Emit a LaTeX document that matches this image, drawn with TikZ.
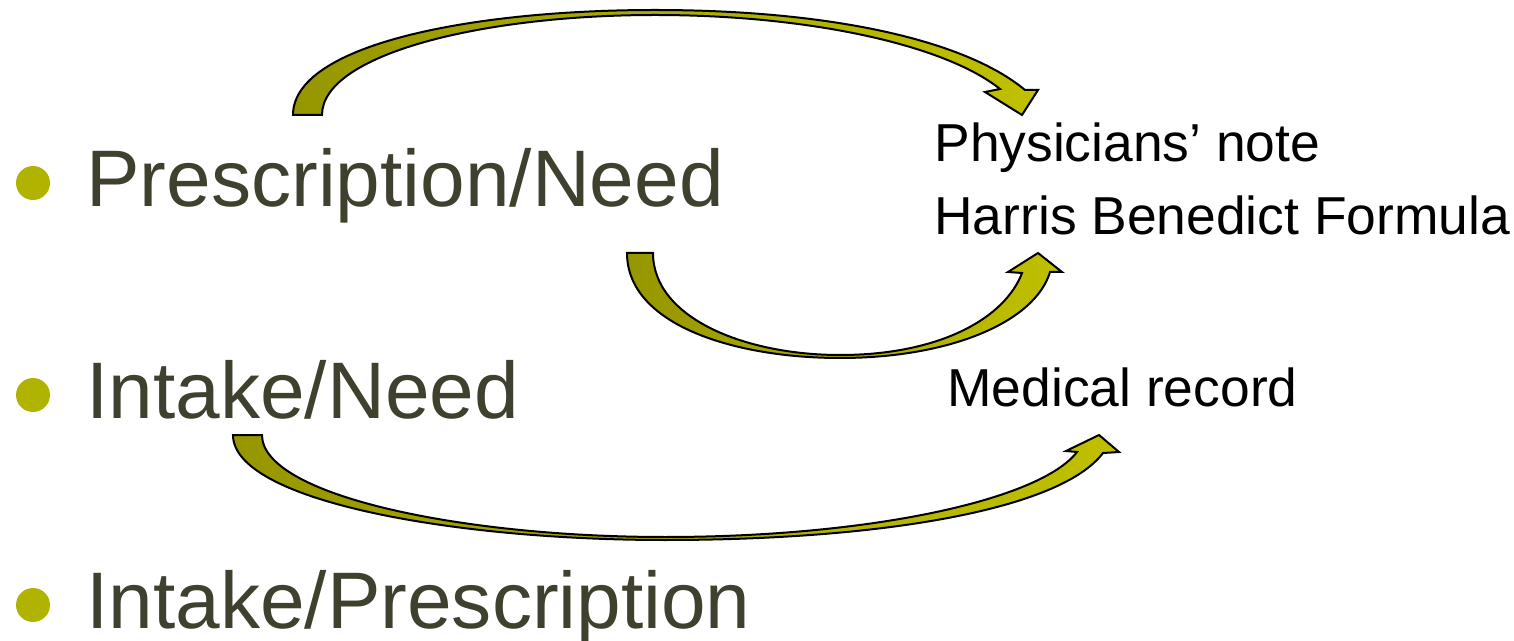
\documentclass[tikz,border=0pt]{standalone}
\usepackage{fontspec}
\setmainfont{Liberation Sans}
\definecolor{txt}{RGB}{64,64,46}
\definecolor{bul}{RGB}{176,180,0}
\definecolor{arrL}{RGB}{150,150,0}
\definecolor{arrR}{RGB}{192,192,0}
\begin{document}
\begin{tikzpicture}[x=0.5pt,y=-0.5pt,
  bigtext/.style={font=\fontsize{40.1}{48}\selectfont, text=txt, inner sep=0pt, anchor=base west},
  smalltext/.style={font=\fontsize{26.7}{32}\selectfont, text=black, inner sep=0pt, anchor=base west},
  bulletdot/.style={circle, fill=bul, minimum size=17pt, inner sep=0pt},
  bentarrow/.style={draw=black, line width=1pt, left color=arrL, right color=arrR, line join=miter}]
\useasboundingbox (0,0) rectangle (1514,641);

% bullets and items
\node[bulletdot] (b1) at (33,183) {};
\node[bulletdot] (b2) at (33,395) {};
\node[bulletdot] (b3) at (33,605) {};
\node[bigtext] (t1) at (86,207) {Prescription/Need};
\node[bigtext] (t2) at (86,418) {Intake/Need};
\node[bigtext] (t3) at (86,628) {Intake/Prescription};

% right-hand sources
\node[smalltext] (r1) at (934,162) {Physicians’ note};
\node[smalltext] (r2) at (934,235) {Harris Benedict Formula};
\node[smalltext] (r3) at (947,407) {Medical record};

% arrow 1 (over the top)
\path[bentarrow] (293,115) .. controls (293,45) and (470,10) .. (655,10)
  .. controls (830,10) and (965,40) .. (1025,90)
  -- (1038,90) -- (1022,115) -- (985,92) -- (1000,89)
  .. controls (945,45) and (810,15) .. (655,15)
  .. controls (480,15) and (322,55) .. (322,115) -- cycle;

% arrow 2 (under, middle)
\path[bentarrow] (627,253) .. controls (627,325) and (735,358) .. (840,358)
  .. controls (950,358) and (1035,322) .. (1050,272)
  -- (1062,272) -- (1038,253) -- (1008,272) -- (1022,273)
  .. controls (1005,318) and (940,355) .. (840,355)
  .. controls (745,355) and (653,318) .. (653,253) -- cycle;

% arrow 3 (under, bottom)
\path[bentarrow] (233,435) .. controls (233,500) and (450,540) .. (665,540)
  .. controls (880,540) and (1060,510) .. (1103,453)
  -- (1119,452) -- (1099,435) -- (1066,451) -- (1077,452)
  .. controls (1040,500) and (870,537) .. (665,537)
  .. controls (460,537) and (262,495) .. (262,435) -- cycle;
\end{tikzpicture}
\end{document}
